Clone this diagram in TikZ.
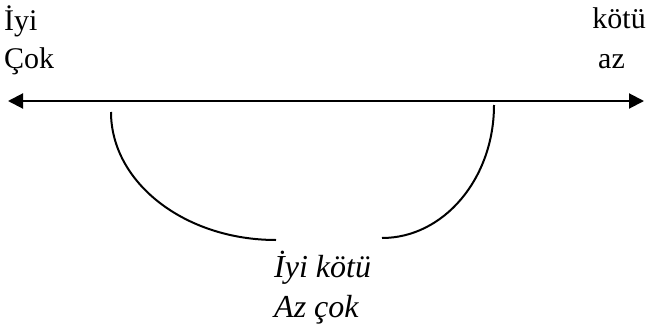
\documentclass[tikz,border=0pt]{standalone}
\usepackage{fontspec}
\setmainfont{Liberation Serif}
\usetikzlibrary{arrows.meta, positioning}

\begin{document}
\begin{tikzpicture}[x=1pt, y=-1pt,
  word/.style={anchor=base west, inner sep=0pt, font=\fontsize{30}{34}\selectfont},
  note/.style={word, font=\fontsize{32}{36}\selectfont\itshape},
  ar/.style={{Triangle[length=15pt,width=15pt]}-{Triangle[length=15pt,width=15pt]}, line width=2pt},
  bow/.style={line width=2pt}]

  \useasboundingbox (0,0) rectangle (647,329);

  % labels at both ends
  \node[word] (good) at (4, 31) {İyi};
  \node[word] (much) at (4, 68) {Çok};
  \node[word, anchor=base east] (bad) at (646, 29) {kötü};
  \node[word] (few) at (598, 68) {az};

  % scale line
  \coordinate (lend) at (8, 101);
  \coordinate (rend) at (644, 101);
  \draw[ar] (lend) -- (rend);

  % the two arcs
  \coordinate (la) at (111, 112);
  \coordinate (ra) at (494, 105);
  \draw[bow] (la) arc[start angle=180, end angle=270, x radius=165, y radius=-128];
  \draw[bow] (ra) arc[start angle=0, end angle=-90, x radius=112, y radius=-133];

  % middle
  \node[note] (mid1) at (274, 277) {İyi kötü};
  \node[note] (mid2) at (274, 317) {Az çok};
\end{tikzpicture}
\end{document}
